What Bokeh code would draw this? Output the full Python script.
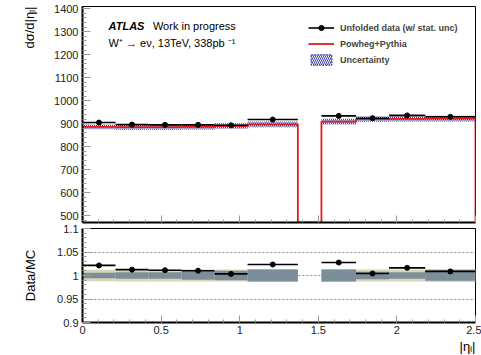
import numpy as np
from bokeh.plotting import figure
from bokeh.layouts import column
from bokeh.models import (ColumnDataSource, FixedTicker, CustomJSTickFormatter,
                          Label, Legend, LegendItem, Range1d, Title)
from bokeh.embed import file_html
from bokeh.resources import INLINE

# ---------------- data ----------------
edges = [0.0, 0.21, 0.42, 0.63, 0.84, 1.05, 1.37, 1.52, 1.74, 1.95, 2.18, 2.5]
data_xsec = [905, 896, 895, 895, 893, 918, np.nan, 934, 924, 936, 930]
data_stat = [3, 3, 3, 3, 3, 4, np.nan, 4, 3, 3, 3]
mc_xsec = [886, 885, 885, 886, 890, 897, 0, 909, 920, 921, 922]
unc_total = [0.012, 0.013, 0.013, 0.013, 0.013, 0.014, 0, 0.014, 0.013, 0.013, 0.014]
unc_inner = [0.006, 0.007, 0.007, 0.009, 0.010, 0.013, 0, 0.013, 0.008, 0.007, 0.011]

top_yticks = [500, 600, 700, 800, 900, 1000, 1100, 1200, 1300, 1400]
ratio_yticks = [0.9, 0.95, 1.0, 1.05, 1.1]
ratio_grid = [0.95, 1.0, 1.05]
x_ticks = [0, 0.5, 1, 1.5, 2, 2.5]

FONT = "Liberation Sans"
TOP_Y = (470, 1410)
RATIO_Y = (0.9, 1.1)
X_RANGE = (0, 2.5)

lo = np.array(edges[:-1])
hi = np.array(edges[1:])
ctr = (lo + hi) / 2
dat = np.array(data_xsec, dtype=float)
stat = np.array(data_stat, dtype=float)
mc = np.array(mc_xsec, dtype=float)
ut = np.array(unc_total)
ui = np.array(unc_inner)
ok = ~np.isnan(dat) & (mc > 0)
ratio = np.where(ok, dat / np.where(mc > 0, mc, 1), np.nan)
ratio_err = np.where(ok, stat / np.where(mc > 0, mc, 1), np.nan)

fmt = CustomJSTickFormatter(code="return String(Number(tick.toFixed(3)));")
blank_fmt = CustomJSTickFormatter(code="return '';")


def style_axes(fig, xticks, xminor, yticks, yminor, show_xlabels):
    for ax in fig.xaxis:
        ax.ticker = FixedTicker(ticks=xticks, minor_ticks=xminor)
        ax.major_tick_in = 7
        ax.major_tick_out = 0
        ax.minor_tick_in = 3
        ax.minor_tick_out = 0
        ax.major_tick_line_color = "#999999"
        ax.minor_tick_line_color = "#999999"
        ax.axis_line_color = "black"
        ax.axis_line_width = 2
        ax.major_label_text_font = FONT
        ax.major_label_text_color = "#222222"
        if show_xlabels:
            ax.formatter = fmt
            ax.major_label_text_font_size = "11px"
            ax.major_label_standoff = 3
        else:
            ax.formatter = blank_fmt
            ax.major_label_text_font_size = "1px"
            ax.major_label_standoff = 0
    for ax in fig.yaxis:
        ax.ticker = FixedTicker(ticks=yticks, minor_ticks=yminor)
        ax.formatter = fmt
        ax.major_tick_in = 8
        ax.major_tick_out = 0
        ax.minor_tick_in = 4
        ax.minor_tick_out = 0
        ax.major_tick_line_color = "#999999"
        ax.minor_tick_line_color = "#999999"
        ax.axis_line_color = "black"
        ax.axis_line_width = 2
        ax.major_label_text_font = FONT
        ax.major_label_text_font_size = "11px"
        ax.major_label_text_color = "#222222"
        ax.major_label_standoff = 4
    fig.outline_line_color = "black"
    fig.outline_line_width = 1


x_minor = [round(v, 2) for v in np.arange(0, 2.501, 0.1)]

# ---------------- top panel ----------------
p = figure(width=481, height=224, x_range=Range1d(*X_RANGE), y_range=Range1d(*TOP_Y),
           output_backend="svg", toolbar_location=None,
           min_border_left=82, min_border_right=6, min_border_top=6, min_border_bottom=2)
p.grid.visible = False
style_axes(p, x_ticks, x_minor, top_yticks, list(range(480, 1410, 20)), False)

band_src = ColumnDataSource(dict(left=lo[mc > 0], right=hi[mc > 0],
                                 bottom=(mc * (1 - ut))[mc > 0], top=(mc * (1 + ut))[mc > 0]))
p.quad(left="left", right="right", bottom="bottom", top="top", source=band_src,
       fill_color=None, line_color=None, hatch_pattern="\\", hatch_color="#3a3aa0",
       hatch_scale=4, hatch_weight=1, hatch_alpha=1.0)

# MC step line
ybase = TOP_Y[0]
sx, sy = [edges[0]], [ybase]
for i in range(len(mc)):
    h = max(mc[i], ybase)
    sx += [edges[i], edges[i + 1]]
    sy += [h, h]
sx.append(edges[-1])
sy.append(ybase)
mc_line = p.line(sx, sy, line_color="#e41a1c", line_width=1.8)

dsrc = ColumnDataSource(dict(lo=lo[ok], hi=hi[ok], x=ctr[ok], y=dat[ok],
                             ylo=(dat - stat)[ok], yhi=(dat + stat)[ok]))
r_h = p.segment(x0="lo", x1="hi", y0="y", y1="y", source=dsrc, line_color="black", line_width=1.6)
r_v = p.segment(x0="x", x1="x", y0="ylo", y1="yhi", source=dsrc, line_color="black", line_width=1.6)
r_p = p.scatter(x="x", y="y", source=dsrc, size=5, color="black")

# legend-only renderer for the uncertainty box (hidden in the plot)
leg_unc = p.quad(left="left", right="right", bottom="bottom", top="top", source=band_src,
                 fill_color=None, hatch_pattern="\\", hatch_color="#3a3aa0", hatch_scale=4,
                 hatch_weight=1, line_color="#3a3aa0", line_dash="2 1", line_width=1)
leg_unc.visible = False

legend = Legend(items=[
    LegendItem(label="Unfolded data (w/ stat. unc)", renderers=[r_h, r_p]),
    LegendItem(label="Powheg+Pythia", renderers=[mc_line]),
    LegendItem(label="Uncertainty", renderers=[leg_unc]),
], location=(226, 156))
legend.label_text_font = FONT
legend.label_text_font_style = "bold"
legend.label_text_font_size = "9px"
legend.glyph_width = 26
legend.glyph_height = 13
legend.label_height = 13
legend.spacing = 3
legend.padding = 0
legend.margin = 0
legend.label_standoff = 6
legend.border_line_color = None
legend.background_fill_alpha = 0
p.add_layout(legend, "center")

p.add_layout(Label(x=0.166, y=1327, text="ATLAS", text_font=FONT, text_font_style="bold italic",
                   text_font_size="11px", text_baseline="middle", text_color="black"))
p.add_layout(Label(x=0.448, y=1327, text="Work in progress", text_font=FONT,
                   text_font_size="11px", text_baseline="middle", text_color="black"))
p.add_layout(Label(x=0.166, y=1253, text="W\u207a \u2192 e\u03bd, 13TeV, 338pb \u207b\u00b9",
                   text_font=FONT, text_font_size="11px", text_baseline="middle", text_color="black"))

ytitle = Title(text="d\u03c3/d|\u03b7\u2097|", align="right", text_font=FONT,
               text_font_size="13px", text_font_style="normal", text_color="black",
               standoff=30, offset=0)
p.add_layout(ytitle, "left")

# ---------------- ratio panel ----------------
r = figure(width=481, height=131, x_range=Range1d(*X_RANGE), y_range=Range1d(*RATIO_Y),
           output_backend="svg", toolbar_location=None,
           min_border_left=82, min_border_right=6, min_border_top=4, min_border_bottom=33)
r.xgrid.visible = False
r.ygrid.ticker = FixedTicker(ticks=ratio_grid)
r.ygrid.grid_line_color = "#888888"
r.ygrid.grid_line_dash = "2 2"
r.ygrid.grid_line_width = 1
style_axes(r, x_ticks, x_minor, ratio_yticks,
           [round(v, 3) for v in np.arange(0.9, 1.1001, 0.01)], True)

sel = mc > 0
r.quad(left=lo[sel], right=hi[sel], bottom=(1 - ut)[sel], top=(1 + ut)[sel],
       fill_color="#d9d5b8", line_color=None)
r.quad(left=lo[sel], right=hi[sel], bottom=(1 - ui)[sel], top=(1 + ui)[sel],
       fill_color="#7b8f99", line_color=None)

rsrc = ColumnDataSource(dict(lo=lo[ok], hi=hi[ok], x=ctr[ok], y=ratio[ok],
                             ylo=(ratio - ratio_err)[ok], yhi=(ratio + ratio_err)[ok]))
r.segment(x0="lo", x1="hi", y0="y", y1="y", source=rsrc, line_color="black", line_width=1.6)
r.segment(x0="x", x1="x", y0="ylo", y1="yhi", source=rsrc, line_color="black", line_width=1.6)
r.scatter(x="x", y="y", source=rsrc, size=5, color="black")

r.yaxis.axis_label = "Data/MC"
r.yaxis.axis_label_text_font = FONT
r.yaxis.axis_label_text_font_size = "13px"
r.yaxis.axis_label_text_font_style = "normal"
r.yaxis.axis_label_text_color = "black"
r.yaxis.axis_label_standoff = 16

xtitle = Title(text="|\u03b7\u2097|", align="right", text_font=FONT, text_font_size="13px",
               text_font_style="normal", text_color="black", standoff=0)
r.add_layout(xtitle, "below")

layout = column(p, r, spacing=0)
open("out.html", "w").write(file_html(layout, INLINE))
